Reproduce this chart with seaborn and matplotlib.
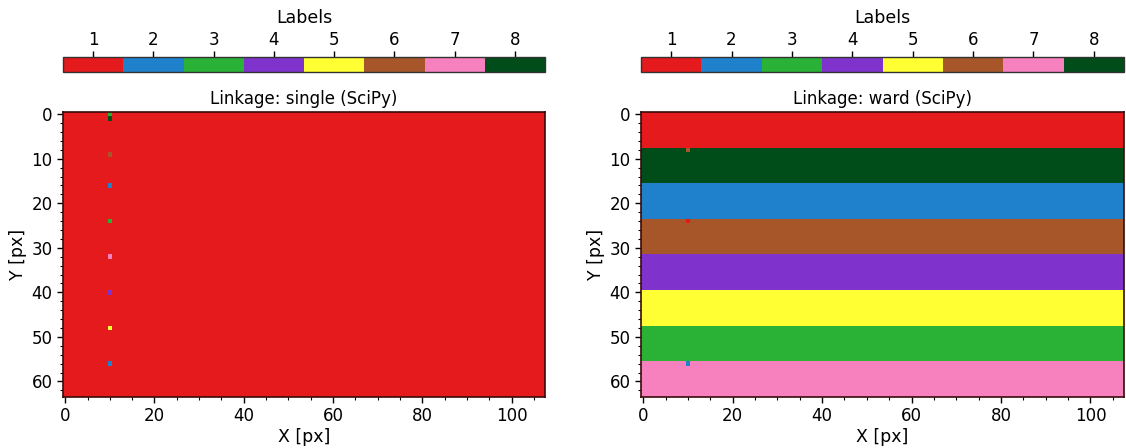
import numpy as np
import matplotlib
matplotlib.use("Agg")
import matplotlib.pyplot as plt
from matplotlib.colors import ListedColormap
from matplotlib.ticker import FixedLocator
import seaborn as sns

sns.set_style("ticks")
plt.rcParams.update({
    "font.family": ["DejaVu Sans"],
    "font.size": 12,
    "text.color": "black",
    "axes.labelcolor": "black",
    "xtick.color": "black",
    "ytick.color": "black",
    "axes.edgecolor": "black",
})

# Label image geometry
N_ROWS, N_COLS = 64, 108
label_values = [1, 2, 3, 4, 5, 6, 7, 8]
label_colors = ["#e41a1c", "#1f80cc", "#29b236", "#8033cc",
                "#ffff33", "#a65628", "#f781bf", "#004d1a"]

# Single linkage: background label plus isolated pixels in column 10
single_background = 1
single_col = 10
single_rows = [0, 1, 9, 16, 24, 32, 40, 48, 56]
single_labels = [3, 8, 6, 2, 3, 7, 4, 5, 2]

# Ward linkage: horizontal bands of 8 rows plus isolated pixels in column 10
ward_band_height = 8
ward_band_labels = [1, 8, 2, 6, 4, 5, 3, 7]
ward_col = 10
ward_rows = [8, 24, 56]
ward_labels = [6, 1, 2]

titles = ["Linkage: single (SciPy)", "Linkage: ward (SciPy)"]


def single_image():
    img = np.full((N_ROWS, N_COLS), single_background, dtype=int)
    for r, lab in zip(single_rows, single_labels):
        img[r, single_col] = lab
    return img


def ward_image():
    img = np.repeat(np.array(ward_band_labels), ward_band_height)[:, None]
    img = np.repeat(img, N_COLS, axis=1).astype(int)
    for r, lab in zip(ward_rows, ward_labels):
        img[r, ward_col] = lab
    return img


cmap = ListedColormap(label_colors)
W, H = 1126, 448
fig = plt.figure(figsize=(W / 100, H / 100), dpi=100)

panels = [(63, 545), (641, 1124)]
for (x0, x1), img, title in zip(panels, [single_image(), ward_image()], titles):
    ax = fig.add_axes([x0 / W, 1 - 397 / H, (x1 - x0) / W, (397 - 112) / H])
    cax = fig.add_axes([x0 / W, 1 - 72 / H, (x1 - x0) / W, 15 / H])
    sns.heatmap(img, ax=ax, cmap=cmap, vmin=0.5, vmax=8.5, cbar=True,
                cbar_ax=cax, cbar_kws={"orientation": "horizontal"},
                xticklabels=False, yticklabels=False, rasterized=True)

    # Pixel-centred tick positions (cell i spans i..i+1)
    xmaj = np.arange(0, N_COLS, 20)
    ymaj = np.arange(0, N_ROWS, 10)
    ax.xaxis.set_major_locator(FixedLocator(xmaj + 0.5))
    ax.yaxis.set_major_locator(FixedLocator(ymaj + 0.5))
    ax.set_xticklabels([str(v) for v in xmaj])
    ax.set_yticklabels([str(v) for v in ymaj], rotation=0)
    ax.xaxis.set_minor_locator(FixedLocator(np.arange(0, N_COLS, 5) + 0.5))
    ax.yaxis.set_minor_locator(FixedLocator(np.arange(0, N_ROWS, 2) + 0.5))
    ax.tick_params(which="major", length=4, width=1, labelsize=12,
                   bottom=True, left=True, direction="out", color="black")
    ax.tick_params(which="minor", length=2, width=0.8,
                   bottom=True, left=True, direction="out", color="black")
    for s in ax.spines.values():
        s.set_visible(True)
        s.set_color("#3a0a0a")
        s.set_linewidth(1.2)
    ax.set_xlabel("X [px]", fontsize=12.5, labelpad=2)
    ax.set_ylabel("Y [px]", fontsize=12.5, labelpad=3)
    ax.set_title(title, fontsize=12, pad=6)

    cb = ax.collections[0].colorbar
    cb.set_ticks(label_values)
    cb.set_ticklabels([str(v) for v in label_values])
    cb.outline.set_visible(True)
    cb.outline.set_linewidth(1.0)
    cb.outline.set_edgecolor("#333333")
    cax.xaxis.set_ticks_position("top")
    cax.xaxis.set_label_position("top")
    cax.tick_params(axis="x", which="major", length=4, width=1, pad=1.5,
                    labelsize=12, top=True, bottom=False, color="black")
    cax.minorticks_off()
    cax.set_xlabel("Labels", fontsize=12.5, labelpad=6)

fig.savefig("out.png", dpi=100)
